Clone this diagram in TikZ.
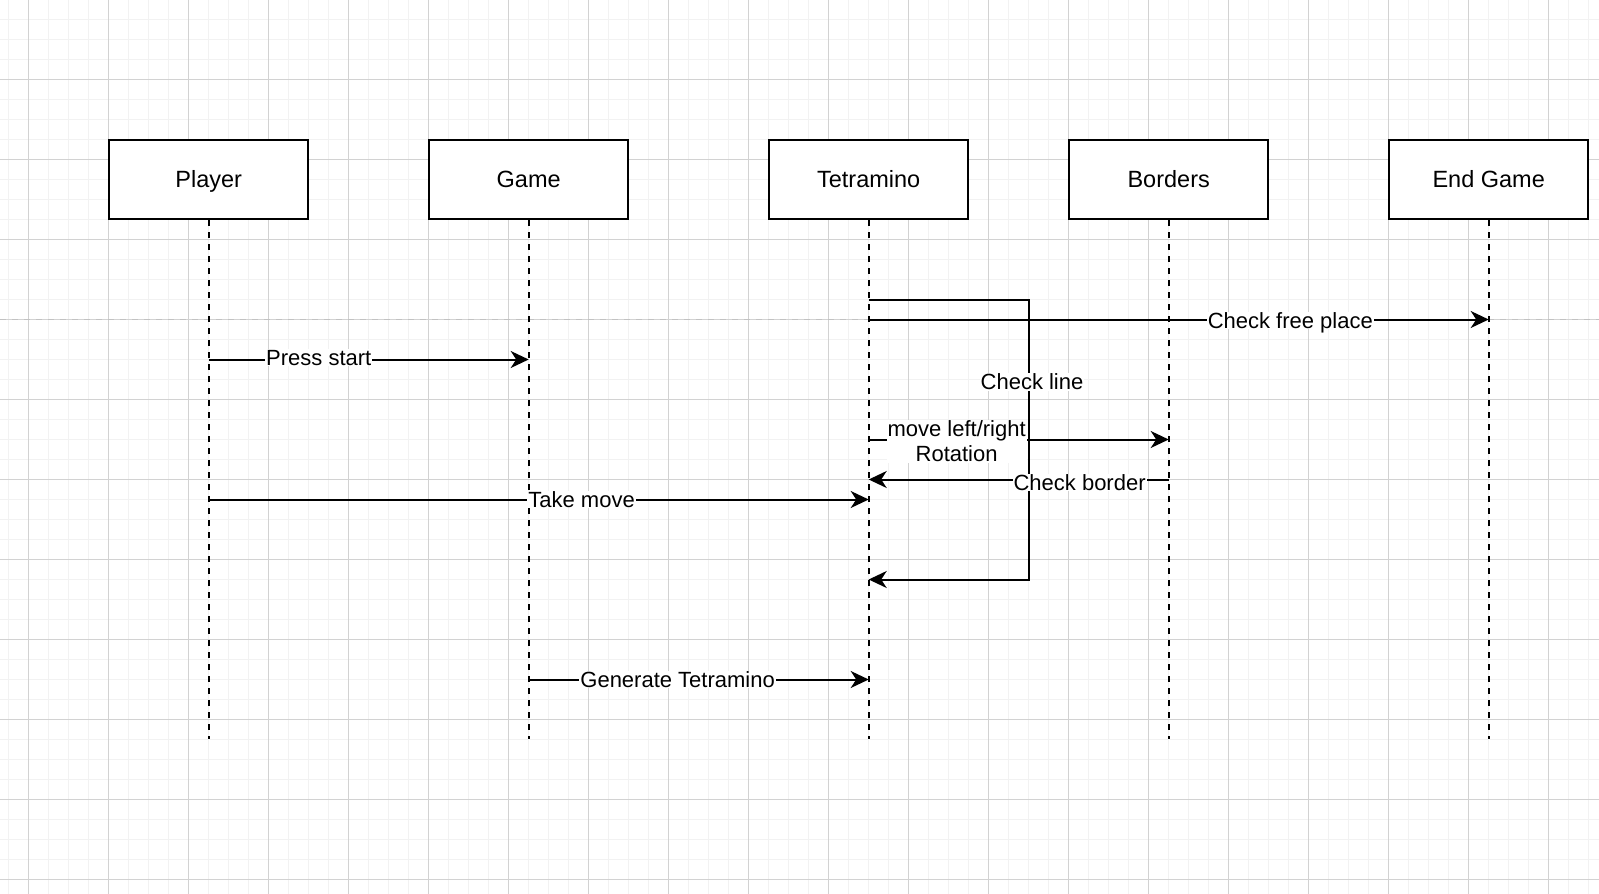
\documentclass[tikz,border=0pt]{standalone}
\usepackage{fontspec}
\setmainfont{Liberation Sans}
\usetikzlibrary{arrows.meta}

\definecolor{gridminor}{HTML}{F2F2F2}
\definecolor{gridmajor}{HTML}{D2D2D2}
\definecolor{pagebreak}{HTML}{C2C2C2}

\begin{document}
\begin{tikzpicture}[x=1pt,y=-1pt,
      actor/.style={
        draw,
        fill=white,
        line width=2pt,
        minimum width=199pt,
        minimum height=79pt,
        text height=16.8pt, text depth=0pt,   % centre the capitals, not the descenders
        font=\fontsize{23.5}{28}\selectfont
      },
      lifeline/.style={line width=2pt, dash pattern=on 6pt off 6pt},
      msg/.style={line width=2pt, -{Stealth[length=18pt,width=17pt,inset=5.5pt]}},
      lbl/.style={
        fill=white,
        inner sep=1pt,   % white patch just round the text
        align=center,
        font=\fontsize{22}{25}\selectfont
      },
      caps/.style={text height=15.8pt, text depth=0pt}]
      \useasboundingbox (0,0) rectangle (1599,894);

      % background grid
      \foreach \x in {8.5,28.5,...,1598.5}
        \draw[gridminor, line width=1.6pt] (\x,0) -- (\x,894);
      \foreach \y in {19.5,39.5,...,893.5}
        \draw[gridminor, line width=1.6pt] (0,\y) -- (1599,\y);
      \foreach \x in {28.5,108.5,...,1598.5}
        \draw[gridmajor, line width=0.9pt] (\x,0) -- (\x,894);
      \foreach \y in {79.5,159.5,...,893.5}
        \draw[gridmajor, line width=0.9pt] (0,\y) -- (1599,\y);
      \draw[pagebreak, line width=1pt, dash pattern=on 6pt off 6pt] (0,319.5) -- (1599,319.5);

      \node[actor] (player) at (208.7,179.5) {Player};
      \node[actor] (game) at (528.7,179.5) {Game};
      \node[actor] (tetra) at (868.7,179.5) {Tetramino};
      \node[actor] (borders) at (1168.7,179.5) {Borders};
      \node[actor] (endgame) at (1488.7,179.5) {End Game};

      \coordinate (bottom) at (0,738.5);
      \foreach \n in {player,game,tetra,borders,endgame}
        \draw[lifeline] (\n.south) -- (\n.south |- bottom);

      % message rows
      \coordinate (looptop) at (0,299.5);
      \coordinate (r1) at (0,319.5);
      \coordinate (r2) at (0,359.5);
      \coordinate (r3) at (0,439.5);
      \coordinate (r4) at (0,479.5);
      \coordinate (r5) at (0,499.5);
      \coordinate (loopbot) at (0,579.5);
      \coordinate (r6) at (0,679.5);
      \coordinate (loopx) at (1029,0);

      \draw[msg] (tetra |- r1) -- node[lbl, caps, pos=0.68, yshift=-1pt] {Check free place} (endgame |- r1);
      \draw[msg] (player |- r2) -- node[lbl, caps, pos=0.344, yshift=2pt] {Press start} (game |- r2);
      \draw[msg] (tetra |- r3) -- node[lbl, pos=0.293, yshift=-2pt] {move left/right\\Rotation} (borders |- r3);
      \draw[msg] (tetra |- looptop) -- (loopx |- looptop)
        -- node[lbl, caps, pos=0.294, xshift=3pt] {Check line} (loopx |- loopbot) -- (tetra |- loopbot);
      \draw[msg] (borders |- r4) -- node[lbl, caps, pos=0.297, yshift=-3pt] {Check border} (tetra |- r4);
      \draw[msg] (player |- r5) -- node[lbl, caps, pos=0.565] {Take move} (tetra |- r5);
      \draw[msg] (game |- r6) -- node[lbl, caps, pos=0.438] {Generate Tetramino} (tetra |- r6);
    \end{tikzpicture}
\end{document}
